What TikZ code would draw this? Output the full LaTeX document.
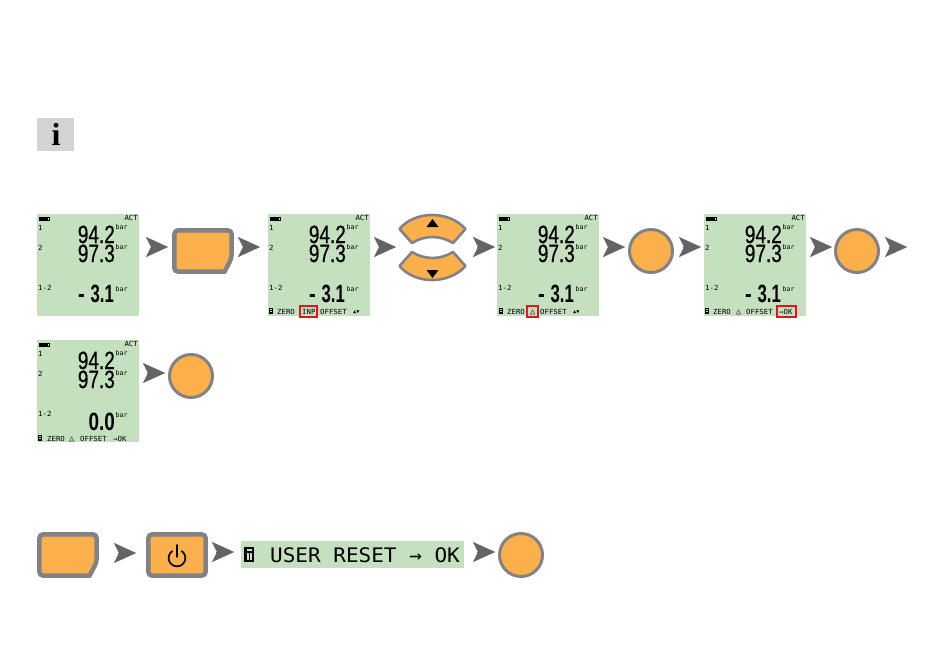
\documentclass[tikz,border=0pt]{standalone}
\usepackage{fontspec}
\setmainfont{Liberation Sans}
\newfontfamily\lcdmono{DejaVu Sans Mono}
\newfontfamily\infoserif{Liberation Serif}
\newfontfamily\lcdnum[FakeBold=.7]{Liberation Sans}
\usetikzlibrary{arrows.meta,calc}
\definecolor{lcdgreen}{HTML}{C4E0BE}
\definecolor{keyorange}{HTML}{FBB04C}
\definecolor{keygray}{HTML}{808285}
\definecolor{chevgray}{HTML}{636466}
\definecolor{infogray}{HTML}{D1D3D4}
\definecolor{markred}{HTML}{E3141E}
\tikzset{
  lcdbox/.style={fill=lcdgreen,draw=none,inner sep=0pt,outer sep=0pt,minimum width=102pt,minimum height=102pt,anchor=north west},
  tinytxt/.style={inner sep=0pt,anchor=base west,font=\lcdmono\fontsize{7}{7}\selectfont,xscale=1.05},
  triatxt/.style={inner sep=0pt,anchor=base west,font=\lcdmono\fontsize{8.5}{8}\selectfont},
  bartxt/.style={inner sep=0pt,anchor=base west,font=\lcdmono\fontsize{6.5}{7}\selectfont},
  bignum/.style={inner sep=0pt,anchor=base east,font=\lcdnum\fontsize{25}{25}\selectfont,xscale=.76},
  negnum/.style={inner sep=0pt,anchor=base east,font=\bfseries\fontsize{25}{25}\selectfont,xscale=.67},
  redmark/.style={draw=markred,line width=1.3pt},
  keybody/.style={fill=keyorange,draw=keygray,line width=4.5pt,line join=miter},
  roundkey/.style={circle,fill=keyorange,draw=keygray,line width=3pt,minimum size=43pt,inner sep=0pt},
  rockerkey/.style={fill=keyorange,draw=keygray,line width=2.6pt,line join=round},
  chev/.style={draw=chevgray,line width=.1pt,-{Stealth[length=22pt,width=20pt,inset=5pt,fill=chevgray]}},
  ghost/.style={inner sep=0pt,outer sep=0pt,draw=none,anchor=north west},
}
% #1 name, #2 x, #3 y, #4 difference reading, #5 footer drawing
\newcommand{\lcdscreen}[5]{%
  \node[lcdbox] (#1) at (#2,#3) {};
  \begin{scope}[shift={(#2,#3)}]
    \fill (2,2.5) rectangle (10,6.5);
    \draw[line width=.6pt] (10,2.8) rectangle (12.5,6.2);
    \node[tinytxt,anchor=base east] (#1act) at (101,6.8) {ACT};
    \node[tinytxt] (#1la) at (1,16.5) {1};
    \node[tinytxt] (#1lb) at (1,36.5) {2};
    \node[tinytxt] (#1lc) at (1,76.5) {1-2};
    \node[bignum] (#1va) at (78,29) {94.2};
    \node[bignum] (#1vb) at (78,48) {97.3};
    \node[bartxt] (#1ua) at (78.5,15) {bar};
    \node[bartxt] (#1ub) at (78.5,35) {bar};
    \node[bartxt] (#1uc) at (78.5,77) {bar};
    #4
    #5
  \end{scope}}
\newcommand{\negread}[1]{%
  \node[negnum] (#1neg) at (77,88) {3.1};
  \node[negnum,anchor=base west,xscale=1.2] (#1min) at (41,88) {-};}
\newcommand{\lcdicon}[2]{\fill (#1,#2) rectangle ++(4,5.5);\fill[lcdgreen] (#1+1,#2+1) rectangle ++(2,1);\fill[lcdgreen] (#1+1,#2+3) rectangle ++(2,1);}
% #1 name, #2 x, #3 y  (soft key with clipped corner)
\newcommand{\softkey}[3]{%
  \node[ghost,minimum width=62pt,minimum height=46pt] (#1) at (#2,#3) {};
  \begin{scope}[shift={(#2,#3)}]
    \draw[keybody] (2.3,20) [rounded corners=4pt] -- (2.3,2.3) -- (59.7,2.3) -- (59.7,30) [sharp corners] -- (52.5,43.7) [rounded corners=4pt] -- (2.3,43.7) -- cycle;
  \end{scope}}
\newcommand{\chevron}[5]{\draw[chev] ($(#1.east |- 0,#5)+(#2+5.3,0)$) -- ($(#3.west |- 0,#5)+(-#4,0)$);}
\begin{document}
\begin{tikzpicture}[x=1pt,y=-1pt]
\useasboundingbox (0,0) rectangle (950,665);
\fill[white] (0,0) rectangle (950,665);

% info icon
\node[ghost,fill=infogray,minimum width=37pt,minimum height=33pt] (info) at (37,118) {};
\node[inner sep=0pt,font=\infoserif\bfseries\fontsize{32}{32}\selectfont] (infoi) at (56,134) {i};

% first row
\lcdscreen{sa}{37}{214}{\negread{sa}}{}
\softkey{ka}{172}{228}
\lcdscreen{sb}{268}{214}{\negread{sb}}{%
  \lcdicon{1}{94}
  \node[tinytxt] (sbf1) at (9,100) {ZERO};
  \node[tinytxt] (sbf2) at (34,100) {INP};
  \node[tinytxt] (sbf3) at (52,100) {OFFSET};
  \node[tinytxt,font=\lcdmono\fontsize{5}{5}\selectfont] (sbf4) at (85,99.5) {▲▼};
  \draw[redmark] (32,92) rectangle (49,103);
  }

% rocker keys
\node[ghost,minimum width=69pt,minimum height=67pt] (rocker) at (398,214) {};
\draw[rockerkey] (399.5,229) .. controls (415,210.3) and (449,210.3) .. (465.5,229) -- (453,243) .. controls (440,235) and (425,235) .. (412,243) -- cycle;
\draw[rockerkey] (399.5,266) .. controls (415,284.7) and (449,284.7) .. (465.5,266) -- (453,252) .. controls (440,260) and (425,260) .. (412,252) -- cycle;
\fill (426.5,227) -- (438.5,227) -- (432.5,219) -- cycle;
\fill (426.5,270) -- (438.5,270) -- (432.5,278) -- cycle;

\lcdscreen{sc}{497}{214}{\negread{sc}}{%
  \lcdicon{2}{94}
  \node[tinytxt] (scf1) at (10,100) {ZERO};
  \node[triatxt] (scf2) at (33,100) {△};
  \node[tinytxt] (scf3) at (43,100) {OFFSET};
  \node[tinytxt,font=\lcdmono\fontsize{5}{5}\selectfont] (scf4) at (76,99.5) {▲▼};
  \draw[redmark] (30,92) rectangle (41,103);
  }
\node[roundkey] (ca) at (651,251) {};
\lcdscreen{sd}{704}{214}{\negread{sd}}{%
  \lcdicon{1}{94}
  \node[tinytxt] (sdf1) at (9,100) {ZERO};
  \node[triatxt] (sdf2) at (32,100) {△};
  \node[tinytxt] (sdf3) at (42,100) {OFFSET};
  \node[tinytxt] (sdf4) at (75,100) {→OK};
  \draw[redmark] (73,92) rectangle (92,103);
  }
\node[roundkey] (cb) at (857,251) {};
\coordinate (free) at (907,247);

% second row
\lcdscreen{se}{37}{340}{%
  \node[negnum,xscale=1.13] (sezero) at (78,90) {0.0};
  }{%
  \lcdicon{1}{95}
  \node[tinytxt] (sef1) at (10,101) {ZERO};
  \node[triatxt] (sef2) at (32,101) {△};
  \node[tinytxt] (sef3) at (43,101) {OFFSET};
  \node[tinytxt] (sef4) at (76,101) {→OK};
  }
\node[roundkey] (cc) at (191,376) {};

% third row
\softkey{kb}{37}{532}
\node[ghost,minimum width=62pt,minimum height=46pt] (pw) at (146,532) {};
\draw[keybody,rounded corners=4pt] (148.3,534.3) rectangle (205.7,575.7);
\draw[line width=1.7pt,line cap=round] plot[smooth,domain=35:325,samples=40] ({177+8.3*sin(\x)},{558-8.3*cos(\x)});
\draw[line width=1.7pt,line cap=round] (177,545) -- (177,557);
\node[ghost,fill=lcdgreen,minimum width=223pt,minimum height=27pt] (band) at (241,541) {};
\fill (244,547) rectangle (254,562);
\fill[lcdgreen] (246.5,549) rectangle (251.5,551);
\fill[lcdgreen] (246.5,553) rectangle (248.5,560);
\fill[lcdgreen] (250,553) rectangle (251.5,560);
\node[inner sep=0pt,anchor=base west,font=\lcdmono\fontsize{20}{20}\selectfont,xscale=1.05] (bandtxt) at (270,562) {USER RESET → OK};
\node[roundkey] (cd) at (521,555) {};

% connectors
\chevron{sa}{8}{ka}{4}{247}
\chevron{ka}{4}{sb}{8}{247}
\chevron{sb}{4}{rocker}{2}{247}
\chevron{rocker}{5}{sc}{2}{247}
\chevron{sc}{5}{ca}{3}{247}
\chevron{ca}{4}{sd}{3}{247}
\chevron{sd}{4}{cb}{2}{247}
\draw[chev] ($(cb.east |- free)+(9.3,0)$) -- (free);
\chevron{se}{3}{cc}{3}{373}
\chevron{kb}{14}{pw}{10}{553}
\chevron{pw}{3}{band}{7}{552}
\chevron{band}{8}{cd}{3}{552}
\end{tikzpicture}
\end{document}
